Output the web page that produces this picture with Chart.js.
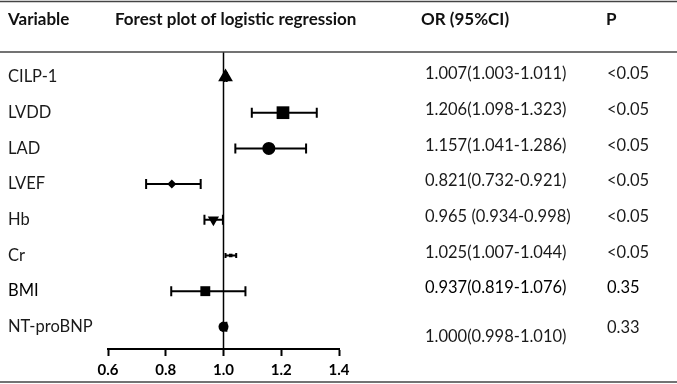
<!DOCTYPE html>
<html>
<head>
<meta charset="utf-8">
<script src="https://cdn.jsdelivr.net/npm/chart.js@4.4.1/dist/chart.umd.min.js"></script>
<style>
  html, body { margin: 0; padding: 0; background: #fff; }
  #wrap { width: 677px; height: 384px; }
</style>
</head>
<body>
<div id="wrap"><canvas id="forestChart" width="677" height="384"></canvas></div>
<script>
const variables = ['CILP-1', 'LVDD', 'LAD', 'LVEF', 'Hb', 'Cr', 'BMI', 'NT-proBNP'];
const orValues = [1.007, 1.206, 1.157, 0.821, 0.965, 1.025, 0.937, 1.000];
const ciLower = [1.003, 1.098, 1.041, 0.732, 0.934, 1.007, 0.819, 0.998];
const ciUpper = [1.011, 1.323, 1.286, 0.921, 0.998, 1.044, 1.076, 1.010];
const orLabels = ['1.007(1.003-1.011)', '1.206(1.098-1.323)', '1.157(1.041-1.286)', '0.821(0.732-0.921)',
    '0.965 (0.934-0.998)', '1.025(1.007-1.044)', '0.937(0.819-1.076)', '1.000(0.998-1.010)'];
const pLabels = ['<0.05', '<0.05', '<0.05', '<0.05', '<0.05', '<0.05', '0.35', '0.33'];
const xTicks = [0.6, 0.8, 1.0, 1.2, 1.4];
const headers = ['Variable', 'Forest plot of logistic regression', 'OR (95%CI)', 'P'];

const markerStyles = ['triangle', 'rect', 'circle', 'rectRot', 'triangle', 'rect', 'rect', 'circle'];
const markerSizes = [8.5, 9, 6.5, 4.5, 6.5, 2.5, 7, 5];
const markerRotation = [0, 0, 0, 0, 180, 0, 0, 0];

const FONT = 'Lato, "Open Sans", sans-serif';
const Y_MIN = 0.3;
const Y_MAX = 8.62;

const errorBarPlugin = {
    id: 'errorBars',
    beforeDatasetsDraw(chart) {
        const ctx = chart.ctx;
        const xs = chart.scales.x;
        const ys = chart.scales.y;
        ctx.save();
        ctx.strokeStyle = '#000';
        ctx.lineWidth = 2;
        variables.forEach((v, i) => {
            const y = ys.getPixelForValue(i + 1);
            const x1 = xs.getPixelForValue(ciLower[i]);
            const x2 = xs.getPixelForValue(ciUpper[i]);
            const cap = i === 5 ? 2.5 : 5;
            ctx.beginPath();
            ctx.moveTo(x1, y);
            ctx.lineTo(x2, y);
            ctx.moveTo(x1, y - cap);
            ctx.lineTo(x1, y + cap);
            ctx.moveTo(x2, y - cap);
            ctx.lineTo(x2, y + cap);
            ctx.stroke();
        });
        ctx.restore();
    }
};

const tablePlugin = {
    id: 'tableText',
    afterDraw(chart) {
        const ctx = chart.ctx;
        const ys = chart.scales.y;
        const w = chart.width;
        ctx.save();
        // rules
        ctx.strokeStyle = '#444';
        ctx.lineWidth = 1.5;
        [1.5, 52, 382].forEach(y => {
            ctx.beginPath();
            ctx.moveTo(0, y);
            ctx.lineTo(w, y);
            ctx.stroke();
        });
        // header
        ctx.fillStyle = '#111';
        ctx.textBaseline = 'middle';
        ctx.textAlign = 'left';
        ctx.font = 'bold 17px ' + FONT;
        const headX = [8, 115, 421, 606];
        headers.forEach((h, i) => ctx.fillText(h, headX[i], 20));
        // rows
        ctx.font = '16.5px ' + FONT;
        variables.forEach((v, i) => {
            const y = ys.getPixelForValue(i + 1);
            ctx.fillStyle = i === 6 ? '#000' : '#1a1a1a';
            ctx.fillText(v, 8, y);
            const last = i === variables.length - 1;
            ctx.fillText(orLabels[i], 425, last ? y + 10 : y - 3);
            ctx.fillText(pLabels[i], 607, last ? y + 1 : y - 3);
        });
        ctx.restore();
    }
};

const forestCtx = document.getElementById('forestChart').getContext('2d');

const forestChart = new Chart(forestCtx, {
    type: 'scatter',
    data: {
        datasets: [{
            data: variables.map((v, i) => ({ x: orValues[i], y: i + 1 })),
            pointStyle: markerStyles,
            pointRadius: markerSizes,
            pointRotation: markerRotation,
            backgroundColor: '#000',
            borderColor: '#000',
            borderWidth: 0,
        }, {
            type: 'line',
            data: [{ x: 1, y: Y_MIN }, { x: 1, y: Y_MAX }],
            borderColor: '#000',
            borderWidth: 1.5,
            pointRadius: 0,
            fill: false,
        }],
    },
    options: {
        responsive: false,
        animation: false,
        layout: {
            padding: { left: 108, right: 338, top: 52, bottom: 0 },
        },
        scales: {
            x: {
                type: 'linear',
                min: 0.6,
                max: 1.4,
                afterBuildTicks: (s) => { s.ticks = xTicks.map(v => ({ value: v })); },
                afterFit: (s) => { s.height = 35; },
                grid: { drawOnChartArea: false, tickLength: 7, color: '#000', tickWidth: 2 },
                border: { color: '#000', width: 2 },
                ticks: {
                    color: '#000',
                    padding: 5,
                    font: { family: FONT, size: 15, weight: 'bold' },
                    callback: (v) => Number(v).toFixed(1),
                },
            },
            y: {
                type: 'linear',
                display: false,
                min: Y_MIN,
                max: Y_MAX,
                reverse: true,
            },
        },
        plugins: {
            legend: { display: false },
            tooltip: { enabled: false },
        },
    },
    plugins: [errorBarPlugin, tablePlugin],
});
</script>
</body>
</html>
